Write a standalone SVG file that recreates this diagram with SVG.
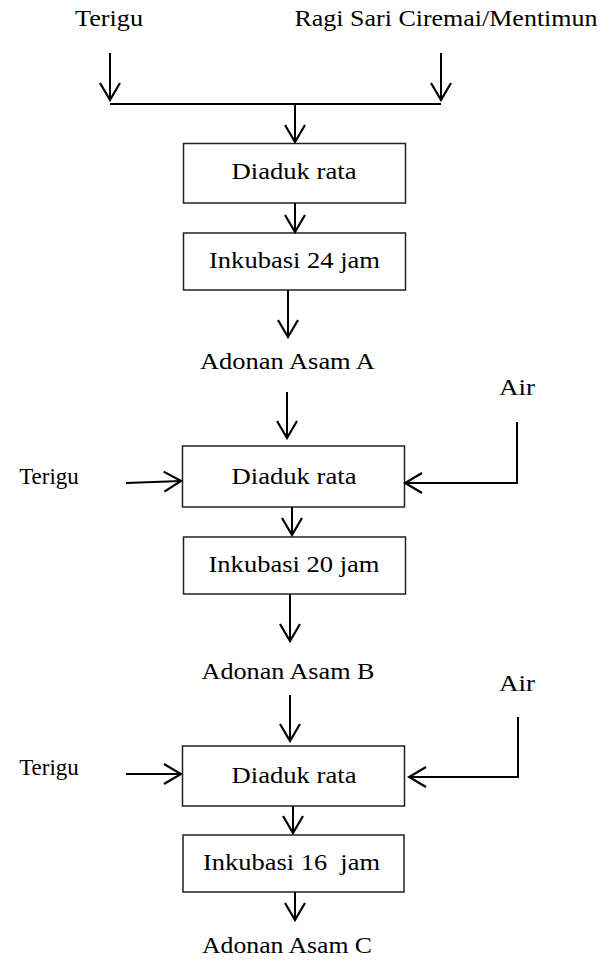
<svg xmlns="http://www.w3.org/2000/svg" width="614" height="961" viewBox="0 0 614 961">
<style>
text{font-family:"Liberation Serif","Times New Roman",serif;font-size:23px;fill:#000;text-anchor:middle}
.box{fill:#fff;stroke:#222;stroke-width:1.5}
.ln{fill:none;stroke:#000;stroke-width:2}
</style>
<defs>
<marker id="ah" viewBox="0 0 20 22" refX="18" refY="11" markerWidth="20" markerHeight="22" markerUnits="userSpaceOnUse" orient="auto">
<path d="M1,1 L18,11 L1,21" fill="none" stroke="#000" stroke-width="2.2"/>
</marker>
</defs>
<rect width="614" height="961" fill="#fff"/>
<g id="labels">
<text x="109" y="26" textLength="68" lengthAdjust="spacingAndGlyphs">Terigu</text>
<text x="446" y="26" textLength="303" lengthAdjust="spacingAndGlyphs">Ragi Sari Ciremai/Mentimun</text>
<text x="287.5" y="369" textLength="175" lengthAdjust="spacingAndGlyphs">Adonan Asam A</text>
<text x="517" y="395" textLength="36" lengthAdjust="spacingAndGlyphs">Air</text>
<text x="49" y="484">Terigu</text>
<text x="288" y="679" textLength="173" lengthAdjust="spacingAndGlyphs">Adonan Asam B</text>
<text x="517" y="691" textLength="36" lengthAdjust="spacingAndGlyphs">Air</text>
<text x="49" y="775">Terigu</text>
<text x="287" y="953" textLength="170" lengthAdjust="spacingAndGlyphs">Adonan Asam C</text>
</g>
<g id="n1"><rect class="box" x="183.5" y="143.5" width="222" height="59.5"/><text x="294" y="179" textLength="125" lengthAdjust="spacingAndGlyphs">Diaduk rata</text></g>
<g id="n2"><rect class="box" x="183.5" y="233" width="222" height="57"/><text x="294.5" y="268" textLength="171" lengthAdjust="spacingAndGlyphs">Inkubasi 24 jam</text></g>
<g id="n3"><rect class="box" x="182.5" y="446" width="222" height="61"/><text x="294" y="484" textLength="125" lengthAdjust="spacingAndGlyphs">Diaduk rata</text></g>
<g id="n4"><rect class="box" x="183.5" y="537" width="222" height="57"/><text x="294" y="572" textLength="171" lengthAdjust="spacingAndGlyphs">Inkubasi 20 jam</text></g>
<g id="n5"><rect class="box" x="182.5" y="746" width="222" height="60"/><text x="294" y="783" textLength="125" lengthAdjust="spacingAndGlyphs">Diaduk rata</text></g>
<g id="n6"><rect class="box" x="183" y="835" width="221" height="57"/><text x="291.5" y="870" textLength="177" lengthAdjust="spacingAndGlyphs" xml:space="preserve">Inkubasi 16  jam</text></g>
<g id="connectors">
<line class="ln" x1="110" y1="53" x2="110" y2="100" marker-end="url(#ah)"/>
<line class="ln" x1="441" y1="53" x2="441" y2="100" marker-end="url(#ah)"/>
<line class="ln" x1="110" y1="104" x2="441" y2="104"/>
<line class="ln" x1="295" y1="104" x2="295" y2="142" marker-end="url(#ah)"/>
<line class="ln" x1="295" y1="203" x2="295" y2="232" marker-end="url(#ah)"/>
<line class="ln" x1="288" y1="290" x2="288" y2="337" marker-end="url(#ah)"/>
<line class="ln" x1="287" y1="392" x2="287" y2="438" marker-end="url(#ah)"/>
<line class="ln" x1="126" y1="483" x2="181" y2="481" marker-end="url(#ah)"/>
<polyline class="ln" points="517,422 517,483 405,483" marker-end="url(#ah)"/>
<line class="ln" x1="292" y1="507" x2="292" y2="535" marker-end="url(#ah)"/>
<line class="ln" x1="290" y1="594" x2="290" y2="641" marker-end="url(#ah)"/>
<line class="ln" x1="290" y1="695" x2="290" y2="741" marker-end="url(#ah)"/>
<line class="ln" x1="126" y1="774" x2="181" y2="774" marker-end="url(#ah)"/>
<polyline class="ln" points="518,717 518,777 409,777" marker-end="url(#ah)"/>
<line class="ln" x1="293" y1="806" x2="293" y2="833" marker-end="url(#ah)"/>
<line class="ln" x1="295" y1="892" x2="295" y2="920" marker-end="url(#ah)"/>
</g>
</svg>
